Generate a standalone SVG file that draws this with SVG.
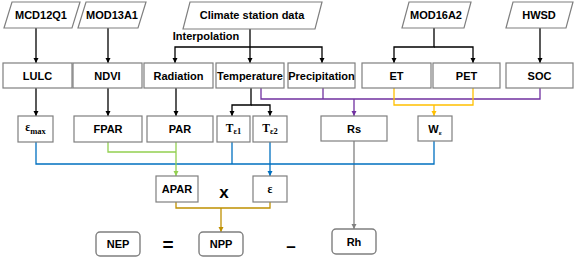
<svg xmlns="http://www.w3.org/2000/svg" width="575" height="259" viewBox="0 0 575 259">
<style>
.box{fill:#fff;stroke:#7f7f7f;stroke-width:1.2}
.rbox{fill:#fff;stroke:#7f7f7f;stroke-width:1.4}
.t{font-family:"Liberation Sans",Arial,sans-serif;font-weight:bold;font-size:11px;fill:#000;text-anchor:middle}
.s{font-family:"Liberation Serif","Times New Roman",serif;font-weight:bold;font-size:11.5px;fill:#000;text-anchor:middle}
.op{font-family:"Liberation Sans",Arial,sans-serif;font-weight:bold;fill:#000;text-anchor:middle}
.c{fill:none;stroke-width:1.3}
.k{stroke:#000}
.pu{stroke:#7030A0}
.or{stroke:#FFC000}
.bl{stroke:#0070C0}
.gr{stroke:#92D050}
.br{stroke:#BF9000}
.gy{stroke:#808080}
</style>
<defs>
<marker id="ak" markerUnits="userSpaceOnUse" markerWidth="6" markerHeight="6" refX="5" refY="3" orient="auto"><path d="M0,0.5 L5,3 L0,5.5 z" fill="#000"/></marker>
<marker id="apu" markerUnits="userSpaceOnUse" markerWidth="6" markerHeight="6" refX="5" refY="3" orient="auto"><path d="M0,0.5 L5,3 L0,5.5 z" fill="#7030A0"/></marker>
<marker id="aor" markerUnits="userSpaceOnUse" markerWidth="6" markerHeight="6" refX="5" refY="3" orient="auto"><path d="M0,0.5 L5,3 L0,5.5 z" fill="#FFC000"/></marker>
<marker id="abl" markerUnits="userSpaceOnUse" markerWidth="6" markerHeight="6" refX="5" refY="3" orient="auto"><path d="M0,0.5 L5,3 L0,5.5 z" fill="#0070C0"/></marker>
<marker id="agr" markerUnits="userSpaceOnUse" markerWidth="6" markerHeight="6" refX="5" refY="3" orient="auto"><path d="M0,0.5 L5,3 L0,5.5 z" fill="#92D050"/></marker>
<marker id="abr" markerUnits="userSpaceOnUse" markerWidth="6" markerHeight="6" refX="5" refY="3" orient="auto"><path d="M0,0.5 L5,3 L0,5.5 z" fill="#BF9000"/></marker>
<marker id="agy" markerUnits="userSpaceOnUse" markerWidth="6" markerHeight="6" refX="5" refY="3" orient="auto"><path d="M0,0.5 L5,3 L0,5.5 z" fill="#808080"/></marker>
</defs>

<g id="connectors">
<path class="c k" d="M36,28 V63" marker-end="url(#ak)"/>
<path class="c k" d="M108,28 V63" marker-end="url(#ak)"/>
<path class="c k" d="M250,29 V63" marker-end="url(#ak)"/>
<path class="c k" d="M250,47 H175 V63" marker-end="url(#ak)"/>
<path class="c k" d="M250,47 H322 V63" marker-end="url(#ak)"/>
<path class="c k" d="M434,28 V47 H394 V63" marker-end="url(#ak)"/>
<path class="c k" d="M434,47 H473 V63" marker-end="url(#ak)"/>
<path class="c k" d="M540,28 V63" marker-end="url(#ak)"/>
<path class="c k" d="M36,88 V116" marker-end="url(#ak)"/>
<path class="c k" d="M108,88 V116" marker-end="url(#ak)"/>
<path class="c k" d="M176,88 V116" marker-end="url(#ak)"/>
<path class="c k" d="M251,88 V105 H232 V116" marker-end="url(#ak)"/>
<path class="c k" d="M251,105 H270 V116" marker-end="url(#ak)"/>
<path class="c pu" d="M261,88 V99 H540 V88"/>
<path class="c pu" d="M323,88 V99"/>
<path class="c pu" d="M354,99 V116" marker-end="url(#apu)"/>
<path class="c or" d="M394,88 V105 H473 V88"/>
<path class="c or" d="M434,105 V116" marker-end="url(#aor)"/>
<path class="c gy" d="M354,141 V229" marker-end="url(#agy)"/>
<path class="c bl" d="M36,142 V164 H434 V141"/>
<path class="c bl" d="M232,142 V164"/>
<path class="c bl" d="M270,142 V176" marker-end="url(#abl)"/>
<path class="c gr" d="M108,142 V152 H176"/>
<path class="c gr" d="M176,142 V176" marker-end="url(#agr)"/>
<path class="c br" d="M176,202 V208 H270 V202"/>
<path class="c br" d="M221,208 V232" marker-end="url(#abr)"/>
</g>

<g id="MCD12Q1"><polygon class="box" points="12,2 80,2 72,28 4,28"/><text class="t" x="41" y="19">MCD12Q1</text></g>
<g id="MOD13A1"><polygon class="box" points="86,2 146,2 138,28 78,28"/><text class="t" x="112" y="19">MOD13A1</text></g>
<g id="Climate"><polygon class="box" points="190,2 322,2 315,29 183,29"/><text class="t" x="252" y="19">Climate station data</text></g>
<g id="MOD16A2"><polygon class="box" points="409,2 471,2 464,28 402,28"/><text class="t" x="436" y="19">MOD16A2</text></g>
<g id="HWSD"><polygon class="box" points="513,2 573,2 566,28 506,28"/><text class="t" x="539" y="19">HWSD</text></g>
<text class="t" x="206" y="40">Interpolation</text>

<g id="LULC"><rect class="box" x="3" y="63" width="69" height="25"/><text class="t" x="37.5" y="79.5">LULC</text></g>
<g id="NDVI"><rect class="box" x="73" y="63" width="69" height="25"/><text class="t" x="107.5" y="79.5">NDVI</text></g>
<g id="Radiation"><rect class="box" x="144" y="63" width="69" height="25"/><text class="t" x="178.5" y="79.5">Radiation</text></g>
<g id="Temperature"><rect class="box" x="216" y="63" width="68" height="25"/><text class="t" x="250" y="79.5">Temperature</text></g>
<g id="Precipitation"><rect class="box" x="288" y="63" width="67" height="25"/><text class="t" x="321.5" y="79.5">Precipitation</text></g>
<g id="ET"><rect class="box" x="362" y="63" width="69" height="25"/><text class="t" x="396.5" y="79.5">ET</text></g>
<g id="PET"><rect class="box" x="433" y="63" width="67" height="25"/><text class="t" x="466.5" y="79.5">PET</text></g>
<g id="SOC"><rect class="box" x="506" y="63" width="67" height="25"/><text class="t" x="539.5" y="79.5">SOC</text></g>

<g id="emax"><rect class="box" x="18" y="116" width="35" height="26"/><text class="s" x="35.5" y="131">ε<tspan font-size="8.5" dy="3">max</tspan></text></g>
<g id="FPAR"><rect class="box" x="74" y="116" width="68" height="26"/><text class="t" x="108" y="133">FPAR</text></g>
<g id="PAR"><rect class="box" x="147" y="116" width="66" height="26"/><text class="t" x="180" y="133">PAR</text></g>
<g id="Te1"><rect class="box" x="217" y="116" width="33" height="26"/><text class="s" x="233.5" y="132">T<tspan font-size="8.5" dy="2">ε1</tspan></text></g>
<g id="Te2"><rect class="box" x="253" y="116" width="34" height="26"/><text class="s" x="270" y="132">T<tspan font-size="8.5" dy="2">ε2</tspan></text></g>
<g id="Rs"><rect class="box" x="321" y="116" width="66" height="25"/><text class="t" x="354" y="132.5">Rs</text></g>
<g id="We"><rect class="box" x="418" y="116" width="34" height="25"/><text class="t" x="435" y="132.5">W<tspan font-size="7" dy="2" font-family="Liberation Serif,serif">ε</tspan></text></g>

<g id="APAR"><rect class="box" x="156" y="176" width="42" height="26"/><text class="t" x="177" y="193">APAR</text></g>
<text class="op" x="224" y="198" style="font-size:17px">x</text>
<g id="eps"><rect class="box" x="253" y="176" width="34" height="26"/><text class="s" x="270" y="192.5">ε</text></g>

<g id="NEP"><rect class="rbox" x="96" y="232" width="44" height="24" rx="4"/><text class="t" x="118" y="248">NEP</text></g>
<text class="op" x="168" y="251" style="font-size:19px">=</text>
<g id="NPP"><rect class="rbox" x="199" y="232" width="44" height="24" rx="4"/><text class="t" x="221" y="248">NPP</text></g>
<text class="op" x="291" y="252" style="font-size:17px">–</text>
<g id="Rh"><rect class="rbox" x="332" y="229" width="44" height="25" rx="4"/><text class="t" x="354" y="245.5">Rh</text></g>
</svg>
